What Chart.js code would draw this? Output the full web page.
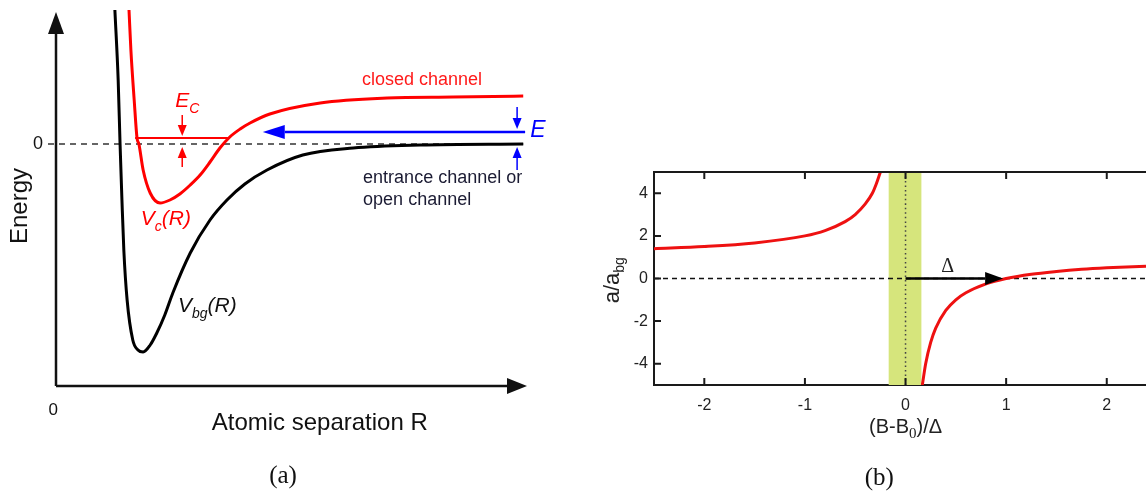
<!DOCTYPE html>
<html lang="en">
<head>
<meta charset="UTF-8">
<title>Feshbach resonance</title>
<style>
  body { margin: 0; background: #fff; width: 1146px; height: 491px; overflow: hidden; position: relative; }
  canvas { position: absolute; top: 0; }
  #chartA { left: 0; }
  #chartB { left: 560px; }
</style>
</head>
<body>
<canvas id="chartA" width="560" height="491"></canvas>
<canvas id="chartB" width="586" height="491"></canvas>
<script src="https://cdn.jsdelivr.net/npm/chart.js"></script>
<script>
// ---- panel (a): potential curves, arbitrary units ----
const bgR = [1.25, 1.32, 1.36, 1.40, 1.44, 1.51, 1.63, 1.74, 1.85, 2.00, 2.14, 2.31, 2.48, 2.85, 3.27, 3.63, 4.01, 4.48, 5.24, 6.31, 7.73, 9.92];
const bgE = [1.34, 0.64, 0, -0.56, -1.06, -1.56, -1.96, -2.06, -2.08, -2.01, -1.89, -1.71, -1.49, -1.09, -0.76, -0.56, -0.40, -0.26, -0.11, -0.04, -0.01, 0];
const cR = [1.55, 1.59, 1.66, 1.72, 1.76, 1.85, 2.00, 2.21, 2.42, 2.63, 2.85, 3.06, 3.27, 3.48, 3.69, 3.91, 4.12, 4.54, 5.61, 7.03, 8.43, 9.92];
const cE = [1.34, 0.94, 0.44, 0.06, 0, -0.26, -0.49, -0.59, -0.56, -0.50, -0.41, -0.31, -0.18, -0.04, 0.07, 0.15, 0.21, 0.30, 0.41, 0.46, 0.47, 0.48];
const ecR = [1.68, 3.65];
const ecLevel = 0.06;
const zeroR = [-0.17, 9.92];
const eLevel = 0.12;
const eArrowR = [9.96, 4.39];

// ---- panel (b): scattering length near the resonance ----
const lowB = [-2.5, -2.0, -1.5, -1.0, -0.8, -0.6, -0.5, -0.4, -0.33, -0.29, -0.25];
const lowA = [1.4, 1.5, 1.67, 2.0, 2.25, 2.67, 3.0, 3.5, 4.0, 4.45, 5.0];
const highB = [0.167, 0.2, 0.25, 0.3, 0.4, 0.5, 0.6, 0.8, 1.0, 1.25, 1.5, 1.75, 2.0, 2.39];
const highA = [-5, -4, -3, -2.33, -1.5, -1.0, -0.67, -0.25, 0, 0.2, 0.33, 0.43, 0.5, 0.58];
const zeroB = [-2.5, 2.39];
const bandB = [-0.17, 0.16];
const deltaB = [0, 0.97];
const xTicks = [-2, -1, 0, 1, 2];
const yTicks = [4, 2, 0, -2, -4];

const SANS = '"Liberation Sans", Arial, sans-serif';
const SERIF = '"Liberation Serif", "Times New Roman", serif';

const toPts = (xs, ys) => xs.map((x, i) => ({ x: x, y: ys[i] }));
const flat = (xs, v) => xs.map(x => ({ x: x, y: v }));

function lineDs(data, color, width, extra) {
    return Object.assign({
        data: data, showLine: true, borderColor: color, borderWidth: width,
        pointRadius: 0, fill: false, cubicInterpolationMode: 'monotone'
    }, extra || {});
}

function arrow(ctx, x1, y1, x2, y2, color, lw, headLen, headHalf) {
    const ang = Math.atan2(y2 - y1, x2 - x1);
    const bx = x2 - headLen * Math.cos(ang), by = y2 - headLen * Math.sin(ang);
    ctx.save();
    ctx.strokeStyle = color; ctx.fillStyle = color; ctx.lineWidth = lw;
    ctx.beginPath(); ctx.moveTo(x1, y1); ctx.lineTo(bx, by); ctx.stroke();
    ctx.beginPath(); ctx.moveTo(x2, y2);
    ctx.lineTo(bx + headHalf * Math.sin(ang), by - headHalf * Math.cos(ang));
    ctx.lineTo(bx - headHalf * Math.sin(ang), by + headHalf * Math.cos(ang));
    ctx.closePath(); ctx.fill();
    ctx.restore();
}

// text made of pieces (for subscripts)
function richText(ctx, parts, x, y, align, color) {
    ctx.save();
    ctx.fillStyle = color; ctx.textBaseline = 'alphabetic'; ctx.textAlign = 'left';
    let w = 0;
    parts.forEach(p => { ctx.font = p.font; w += ctx.measureText(p.t).width; });
    let cx = align === 'center' ? x - w / 2 : x;
    parts.forEach(p => {
        ctx.font = p.font;
        ctx.fillText(p.t, cx, y + (p.dy || 0));
        cx += ctx.measureText(p.t).width;
    });
    ctx.restore();
}

function text(ctx, t, x, y, font, color, align) {
    ctx.save();
    ctx.font = font; ctx.fillStyle = color;
    ctx.textAlign = align || 'center'; ctx.textBaseline = 'middle';
    ctx.fillText(t, x, y);
    ctx.restore();
}

// ---------- panel (a) ----------
const panelA = {
    id: 'panelA',
    afterDraw(chart) {
        const ctx = chart.ctx, sx = chart.scales.x, sy = chart.scales.y;
        const X = v => sx.getPixelForValue(v), Y = v => sy.getPixelForValue(v);
        const ink = '#111';
        // axes with arrow heads
        arrow(ctx, X(0), Y(-2.42), X(0), Y(1.32), ink, 2.5, 22, 8);
        arrow(ctx, X(0), Y(-2.42), X(10), Y(-2.42), ink, 2.5, 20, 8);
        // incoming energy E
        arrow(ctx, X(eArrowR[0]), Y(eLevel), X(eArrowR[1]), Y(eLevel), '#0000ff', 2.5, 22, 7);
        arrow(ctx, X(9.79), Y(0.37), X(9.79), Y(0.15), '#0000ff', 1.5, 11, 4.5);
        arrow(ctx, X(9.79), Y(-0.26), X(9.79), Y(-0.03), '#0000ff', 1.5, 11, 4.5);
        // Ec markers
        arrow(ctx, X(2.68), Y(0.29), X(2.68), Y(0.08), '#ff0000', 1.5, 11, 4.5);
        arrow(ctx, X(2.68), Y(-0.23), X(2.68), Y(-0.03), '#ff0000', 1.5, 11, 4.5);

        text(ctx, 'closed channel', X(7.77), Y(0.64), '18px ' + SANS, '#ff1a1a');
        text(ctx, 'entrance channel or', X(6.52), Y(-0.34), '18px ' + SANS, '#1b1b33', 'left');
        text(ctx, 'open channel', X(6.52), Y(-0.56), '18px ' + SANS, '#1b1b33', 'left');
        text(ctx, 'E', X(10.23), Y(0.13), 'italic 23px ' + SANS, '#0000ff');
        richText(ctx, [{ t: 'E', font: 'italic 21px ' + SANS }, { t: 'C', font: 'italic 14px ' + SANS, dy: 6 }],
            X(2.53), Y(0.37), 'left', '#ff0000');
        richText(ctx, [{ t: 'V', font: 'italic 21px ' + SANS }, { t: 'c', font: 'italic 14px ' + SANS, dy: 6 },
            { t: '(R)', font: 'italic 21px ' + SANS }], X(1.80), Y(-0.81), 'left', '#ff0000');
        richText(ctx, [{ t: 'V', font: 'italic 21px ' + SANS }, { t: 'bg', font: 'italic 14px ' + SANS, dy: 6 },
            { t: '(R)', font: 'italic 21px ' + SANS }], X(2.59), Y(-1.68), 'left', ink);

        text(ctx, '0', X(-0.38), Y(0), '18px ' + SANS, ink);
        text(ctx, '0', X(-0.06), Y(-2.66), '17px ' + SANS, ink);
        text(ctx, 'Atomic separation R', X(5.6), Y(-2.79), '24px ' + SANS, ink);
        ctx.save();
        ctx.translate(X(-0.76), Y(-0.62));
        ctx.rotate(-Math.PI / 2);
        text(ctx, 'Energy', 0, 0, '24px ' + SANS, ink);
        ctx.restore();
        text(ctx, '(a)', X(4.82), Y(-3.32), '25px ' + SERIF, ink);
    }
};

new Chart(document.getElementById('chartA'), {
    type: 'scatter',
    data: {
        datasets: [
            lineDs(toPts(bgR, bgE), '#000', 3),
            lineDs(toPts(cR, cE), '#ff0000', 3),
            lineDs(flat(ecR, ecLevel), '#ff0000', 2),
            lineDs(flat(zeroR, 0), '#333', 1.3, { borderDash: [6, 5], clip: false })
        ]
    },
    options: {
        responsive: false, animation: false, devicePixelRatio: 1,
        layout: { padding: { left: 56, right: 33, top: 10, bottom: 105 } },
        plugins: { legend: { display: false }, tooltip: { enabled: false } },
        scales: {
            x: { type: 'linear', min: 0, max: 10, display: false },
            y: { type: 'linear', min: -2.42, max: 1.34, display: false }
        }
    },
    plugins: [panelA]
});

// ---------- panel (b) ----------
const panelB = {
    id: 'panelB',
    afterDatasetsDraw(chart) {
        const ctx = chart.ctx, sx = chart.scales.x, sy = chart.scales.y;
        arrow(ctx, sx.getPixelForValue(deltaB[0]), sy.getPixelForValue(0),
            sx.getPixelForValue(deltaB[1]), sy.getPixelForValue(0), '#000', 2.5, 18, 6.5);
    },
    afterDraw(chart) {
        const ctx = chart.ctx, sx = chart.scales.x, sy = chart.scales.y, a = chart.chartArea;
        const X = v => sx.getPixelForValue(v), Y = v => sy.getPixelForValue(v);
        ctx.save();
        ctx.strokeStyle = '#1a1a1a'; ctx.lineWidth = 2;
        ctx.beginPath(); ctx.moveTo(a.left - 1, a.top); ctx.lineTo(a.right, a.top); ctx.stroke();
        ctx.beginPath();
        xTicks.forEach(v => {
            ctx.moveTo(X(v), a.bottom); ctx.lineTo(X(v), a.bottom - 7);
            ctx.moveTo(X(v), a.top); ctx.lineTo(X(v), a.top + 7);
        });
        yTicks.forEach(v => { ctx.moveTo(a.left, Y(v)); ctx.lineTo(a.left + 7, Y(v)); });
        ctx.stroke();
        ctx.restore();

        text(ctx, '\u0394', X(0.42), Y(0.55), '20px ' + SERIF, '#222');
        richText(ctx, [{ t: '(B-B', font: '20px ' + SANS }, { t: '0', font: '15px ' + SERIF, dy: 5 },
            { t: ')/\u0394', font: '20px ' + SANS }], X(0), Y(-7.25), 'center', '#222');
        ctx.save();
        ctx.translate(X(-2.92), Y(-0.08));
        ctx.rotate(-Math.PI / 2);
        richText(ctx, [{ t: 'a/a', font: '22px ' + SANS }, { t: 'bg', font: '14px ' + SANS, dy: 5 }], 0, 7, 'center', '#222');
        ctx.restore();
        text(ctx, '(b)', X(-0.26), Y(-9.4), '25px ' + SERIF, '#111');
    }
};

new Chart(document.getElementById('chartB'), {
    type: 'scatter',
    data: {
        datasets: [
            lineDs(toPts(lowB, lowA), '#ee1111', 3),
            lineDs(toPts(highB, highA), '#ee1111', 3),
            lineDs(flat(zeroB, 0), '#111', 1.5, { borderDash: [5, 4], order: 2 }),
            lineDs([{ x: 0, y: -5 }, { x: 0, y: 5 }], '#444', 1.5, { borderDash: [1.5, 3], order: 3 }),
            lineDs(flat(bandB, 5), 'rgba(0,0,0,0)', 0, { fill: { value: -5 }, backgroundColor: '#d6e57c', order: 10 })
        ]
    },
    options: {
        responsive: false, animation: false, devicePixelRatio: 1,
        layout: { padding: { left: 54, right: 0, top: 172, bottom: 76 } },
        plugins: { legend: { display: false }, tooltip: { enabled: false } },
        scales: {
            x: {
                type: 'linear', min: -2.5, max: 2.39, position: 'bottom',
                afterBuildTicks: s => { s.ticks = xTicks.map(v => ({ value: v })); },
                afterFit: s => { s.height = 30; },
                grid: { display: false, drawTicks: false },
                border: { display: true, color: '#1a1a1a', width: 2 },
                ticks: { padding: 11, color: '#222', font: { family: SANS, size: 16 } }
            },
            y: {
                type: 'linear', min: -5, max: 5,
                afterBuildTicks: s => { s.ticks = yTicks.map(v => ({ value: v })); },
                afterFit: s => { s.width = 40; },
                grid: { display: false, drawTicks: false },
                border: { display: true, color: '#1a1a1a', width: 2 },
                ticks: { padding: 6, color: '#222', font: { family: SANS, size: 16 } }
            }
        }
    },
    plugins: [panelB]
});
</script>
</body>
</html>
